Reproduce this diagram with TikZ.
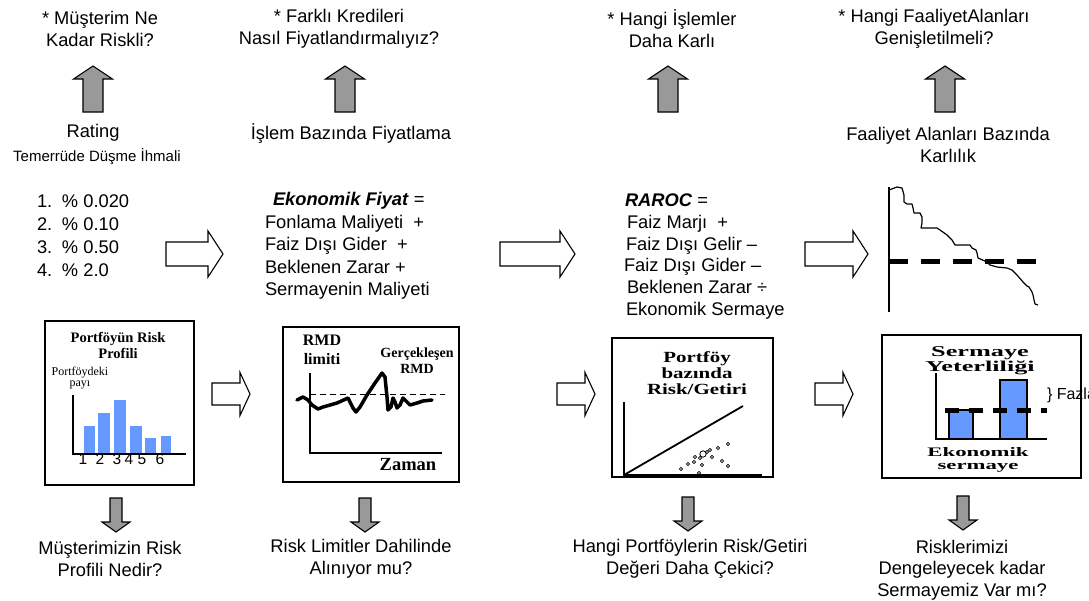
\documentclass[tikz,border=0pt]{standalone}
\usepackage{fontspec}
\setmainfont{Liberation Sans}
\newfontfamily\chartserif{Liberation Serif}
\newfontfamily\wideserif[FakeStretch=1.35]{Liberation Serif}
\newfontfamily\widerserif[FakeStretch=1.75]{Liberation Serif}
\definecolor{arrowgray}{RGB}{153,153,153}
\definecolor{barblue}{RGB}{102,153,255}

\begin{document}
\begin{tikzpicture}[x=1pt,y=-1pt,
  every node/.style={inner sep=0pt,outer sep=0pt},
  bigtxt/.style={font=\fontsize{18.3}{22}\selectfont,align=center},
  smalltxt/.style={font=\fontsize{15}{16}\selectfont,align=center},
  listtxt/.style={font=\fontsize{18.3}{23}\selectfont,align=left,anchor=west},
  chartbox/.style={draw=black,line width=1.5pt},
  axisline/.style={draw=black,line width=1.5pt},
  barfill/.style={fill=barblue},
  barbox/.style={fill=barblue,draw=black,line width=1.5pt},
  grayarrow/.style={draw=black,fill=arrowgray,line width=1.1pt,line join=miter},
  hollowarrow/.style={draw=black,fill=white,line width=1.1pt,line join=miter},
  pics/uparrow/.style={code={
    \draw[grayarrow] (-10,0) -- (-10,-33) -- (-19.5,-33) -- (0,-46)
      -- (19.5,-33) -- (10,-33) -- (10,0) -- cycle;}},
  pics/downarrow/.style={code={
    \draw[grayarrow] (-6,0) -- (-6,24) -- (-14,24) -- (0,34)
      -- (14,24) -- (6,24) -- (6,0) -- cycle;}},
  pics/bigright/.style={code={
    \draw[hollowarrow] (0,-12) -- ({#1-15},-12) -- ({#1-15},-23) -- (#1,0)
      -- ({#1-15},23) -- ({#1-15},12) -- (0,12) -- cycle;}},
  pics/smallright/.style={code={
    \draw[hollowarrow] (0,-11) -- ({#1-10},-11) -- ({#1-10},-21.5) -- (#1,0)
      -- ({#1-10},21.5) -- ({#1-10},11) -- (0,11) -- cycle;}},
]
\useasboundingbox (0,0) rectangle (1089,600);
\clip (0,0) rectangle (1089,600);

% ---------- questions at the top ----------
\node[bigtxt] (q1) at (100,29) {* Müşterim Ne\\Kadar Riskli?};
\node[bigtxt] (q2) at (339,29) {* Farklı Kredileri\\Nasıl Fiyatlandırmalıyız?};
\node[bigtxt] (q3) at (672,29) {* Hangi İşlemler\\Daha Karlı};
\node[bigtxt] (q4) at (934,29) {* Hangi FaaliyetAlanları\\Genişletilmeli?};

\pic at (93,112) {uparrow};
\pic at (345,112) {uparrow};
\pic at (668,112) {uparrow};
\pic at (945,112) {uparrow};

% ---------- tools ----------
\node[bigtxt] (rating) at (93,133) {Rating};
\node[smalltxt] (pd) at (97,157) {Temerrüde Düşme İhmali};
\node[bigtxt] (pricing) at (351,133) {İşlem Bazında Fiyatlama};
\node[bigtxt] (profit) at (948,145) {Faaliyet Alanları Bazında\\Karlılık};

% rating grades
\node[listtxt] (grades) at (37,235.5) {%
  \makebox[25pt][l]{1.}\% 0.020\\
  \makebox[25pt][l]{2.}\% 0.10\\
  \makebox[25pt][l]{3.}\% 0.50\\
  \makebox[25pt][l]{4.}\% 2.0};

% economic price formula
\node[listtxt,font=\fontsize{18.3}{22.5}\selectfont] (ecoprice) at (265,246) {%
  \hspace*{8pt}\textbf{\textit{Ekonomik Fiyat}} =\\
  Fonlama Maliyeti~ +\\
  Faiz Dışı Gider~ +\\
  Beklenen Zarar +\\
  Sermayenin Maliyeti};

% RAROC formula
\node[listtxt,font=\fontsize{18.3}{21.8}\selectfont] (raroc) at (624,256.5) {%
  \hspace*{1pt}\textbf{\textit{RAROC}} =\\
  \hspace*{3pt}Faiz Marjı~ +\\
  \hspace*{2pt}Faiz Dışı Gelir --\\
  Faiz Dışı Gider --\\
  \hspace*{3pt}Beklenen Zarar ÷\\
  \hspace*{2pt}Ekonomik Sermaye};

\pic at (166,254) {bigright=57};
\pic at (500,254) {bigright=75};
\pic at (805,254) {bigright=63};

% profitability curve with hurdle line
\draw[line width=1.2pt] (889,187) -- (889,312);
\draw[line width=1.2pt,line join=round]
  (889,190) -- (897,187) -- (902,188) -- (904,195) -- (904,202) -- (907,204)
  -- (912,204) -- (913,208) -- (914,213) -- (920,213) -- (922,217) -- (922,223)
  -- (921,228) -- (937,228) -- (940,230) -- (947,235) -- (952,240) -- (955,245)
  -- (970,245) -- (972,248) -- (976,250) -- (977,253) -- (978,258) -- (987,262)
  -- (990,265) -- (997,267) -- (1007,268) -- (1012,270) -- (1017,275)
  -- (1023,282) -- (1027,286) -- (1029,287) -- (1032,292) -- (1033,295)
  -- (1034,300) -- (1035,304) -- (1038,305);
\draw[line width=5pt,dash pattern=on 19pt off 13pt] (889,261) -- (1039,261);

% ---------- chart 1: risk profile ----------
\draw[chartbox] (45,321) rectangle (194,485);
\node[font=\chartserif\bfseries\fontsize{14.5}{16}\selectfont,align=center]
  (c1title) at (118,345) {Portföyün Risk\\Profili};
\node[font=\chartserif\fontsize{12}{10.5}\selectfont,align=center]
  (c1share) at (80,378) {Portföydeki\\payı};
\fill[barfill] (84,426) rectangle (95,454);
\fill[barfill] (98,413) rectangle (110,454);
\fill[barfill] (114,400) rectangle (126,454);
\fill[barfill] (130,426) rectangle (142,454);
\fill[barfill] (145,438) rectangle (156,454);
\fill[barfill] (161,436) rectangle (171,454);
\draw[axisline] (73,395) -- (73,454) -- (186,454);
\foreach \lx/\lt in {83/1,100/2,117/3,129/4,142/5,160/6}
  \node[font=\fontsize{15.5}{15.5}\selectfont] (bl\lt) at (\lx,459) {\lt};

% ---------- chart 2: risk limits ----------
\draw[chartbox] (283,327) rectangle (459,482);
\node[font=\chartserif\bfseries\fontsize{16}{19}\selectfont,align=center]
  (c2limit) at (322,349.5) {RMD\\limiti};
\node[font=\chartserif\bfseries\fontsize{14}{16}\selectfont,align=center]
  (c2real) at (417,361) {Gerçekleşen\\RMD};
\draw[axisline] (310,373) -- (310,453) -- (442,453);
\draw[line width=1pt,dash pattern=on 6pt off 4pt] (310,394) -- (445,394);
\draw[line width=3.5pt,line join=round,line cap=round]
  (297,400) -- (303,397) -- (308,400) -- (312,405) -- (318,409) -- (323,407)
  -- (337,403) -- (348,398) -- (350,402) -- (353,408) -- (356,412) -- (360,407)
  -- (367,395) -- (375,383) -- (382,373) -- (385,377) -- (387,397) -- (388,410)
  -- (391,407) -- (393,398) -- (395,402) -- (397,408) -- (400,405) -- (403,398)
  -- (407,402) -- (410,405) -- (417,403) -- (423,401) -- (432,400);
\node[font=\chartserif\bfseries\fontsize{18.5}{20}\selectfont]
  (c2time) at (408,465) {Zaman};

\pic at (212,394) {smallright=38};
\pic at (557,394) {smallright=38};
\pic at (815,394) {smallright=38};

% ---------- chart 3: risk/return ----------
\draw[chartbox] (612,338) rectangle (773,477);
\node[font=\wideserif\bfseries\fontsize{15.5}{16}\selectfont,align=center]
  (c3title) at (697,373) {Portföy\\bazında\\Risk/Getiri};
\draw[axisline] (624,402) -- (624,475) -- (762,475);
\draw[line width=1.8pt] (624,475) -- (743,406);
\foreach \px/\py in {681/469,688/464,694/462,700/458,702/465,699/473,707/452,
                     710/450,712/457,718/448,728/444,722/461,728/466,695/457}
  \draw[line width=0.8pt] (\px,\py) circle (1.6);
\draw[line width=0.8pt] (703,454) circle (3.2);

% ---------- chart 4: capital adequacy ----------
\draw[chartbox] (882,335) rectangle (1081,478);
\node[font=\widerserif\bfseries\fontsize{15}{15}\selectfont,align=center]
  (c4title) at (980,360.5) {Sermaye\\Yeterliliği};
\draw[barbox] (949,410) rectangle (973,439);
\draw[barbox] (1000,380) rectangle (1027,439);
\draw[axisline] (936,373) -- (936,439) -- (1047,439);
\draw[line width=5pt,dash pattern=on 14pt off 10pt] (945,410) -- (1047,410);
\node[font=\fontsize{16}{16}\selectfont,anchor=west] (excess) at (1047,395) {\} Fazla};
\node[font=\widerserif\bfseries\fontsize{13}{13}\selectfont,align=center]
  (c4eco) at (978,459.5) {Ekonomik\\sermaye};

% ---------- conclusions at the bottom ----------
\pic at (116,498) {downarrow};
\pic at (365,498) {downarrow};
\pic at (688,497) {downarrow};
\pic at (963,496) {downarrow};

\node[bigtxt] (a1) at (110,559) {Müşterimizin Risk\\Profili Nedir?};
\node[bigtxt] (a2) at (361,559) {Risk Limitler Dahilinde\\Alınıyor mu?};
\node[bigtxt] (a3) at (690,559) {Hangi Portföylerin Risk/Getiri\\Değeri Daha Çekici?};
\node[bigtxt,font=\fontsize{18.3}{21.5}\selectfont] (a4) at (962,570)
  {Risklerimizi\\Dengeleyecek kadar\\Sermayemiz Var mı?};
\end{tikzpicture}
\end{document}
